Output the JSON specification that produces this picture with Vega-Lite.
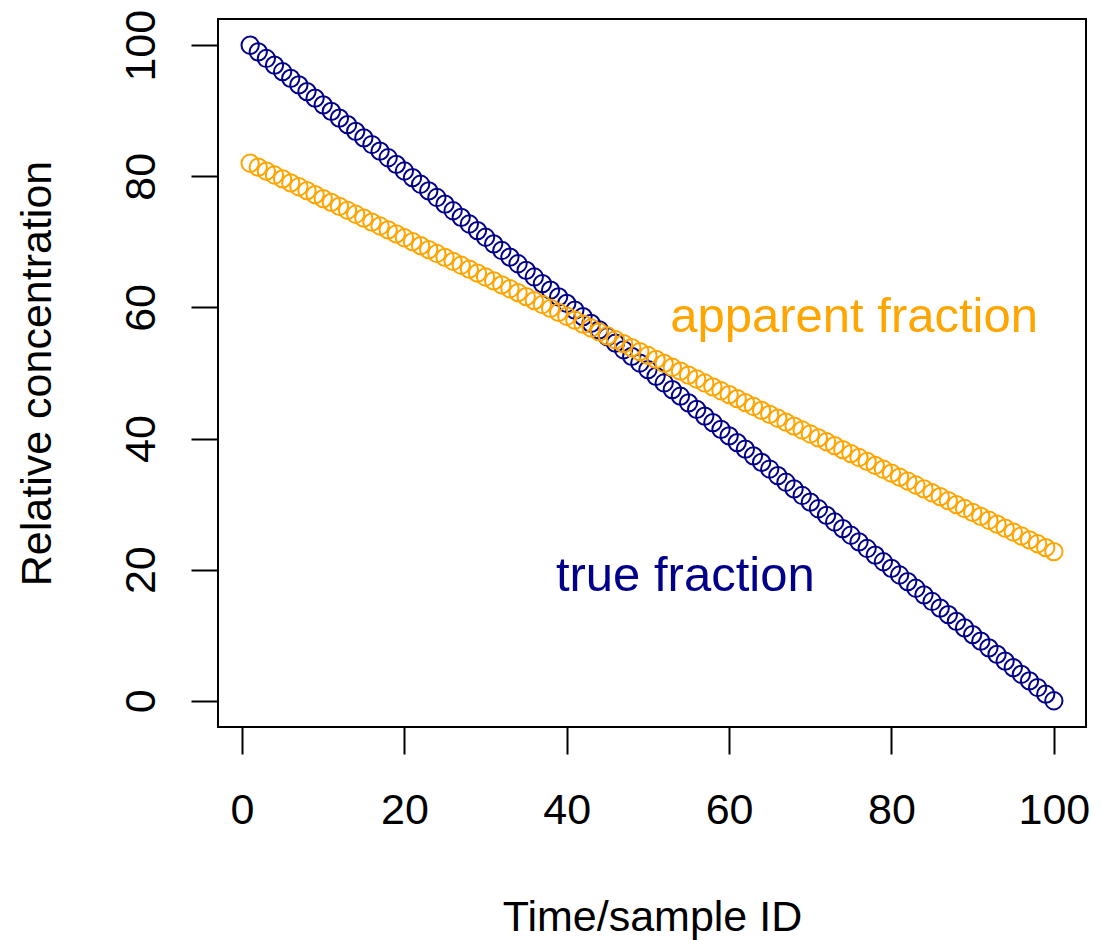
{
  "$schema": "https://vega.github.io/schema/vega-lite/v6.json",
  "autosize": {"type": "none"},
  "padding": {"left": 218, "top": 19, "right": 15, "bottom": 213},
  "width": 868,
  "height": 708,
  "background": "white",
  "config": {
    "view": {"stroke": "black", "strokeWidth": 2},
    "font": "Liberation Sans",
    "axis": {
      "domain": false,
      "grid": false,
      "ticks": true,
      "tickColor": "black",
      "tickWidth": 2,
      "tickSize": 27,
      "labelFont": "Liberation Sans",
      "labelFontSize": 43,
      "labelColor": "black",
      "titleFont": "Liberation Sans",
      "titleFontSize": 43,
      "titleFontWeight": "normal",
      "titleColor": "black"
    }
  },
  "datasets": {
    "pts": [
      {"id":1,"true_fraction":100,"apparent_fraction":82.00},
      {"id":2,"true_fraction":98.99,"apparent_fraction":81.40},
      {"id":3,"true_fraction":97.98,"apparent_fraction":80.80},
      {"id":4,"true_fraction":96.97,"apparent_fraction":80.20},
      {"id":5,"true_fraction":95.96,"apparent_fraction":79.61},
      {"id":6,"true_fraction":94.95,"apparent_fraction":79.01},
      {"id":7,"true_fraction":93.94,"apparent_fraction":78.41},
      {"id":8,"true_fraction":92.93,"apparent_fraction":77.81},
      {"id":9,"true_fraction":91.92,"apparent_fraction":77.21},
      {"id":10,"true_fraction":90.91,"apparent_fraction":76.61},
      {"id":11,"true_fraction":89.90,"apparent_fraction":76.02},
      {"id":12,"true_fraction":88.89,"apparent_fraction":75.42},
      {"id":13,"true_fraction":87.88,"apparent_fraction":74.82},
      {"id":14,"true_fraction":86.87,"apparent_fraction":74.22},
      {"id":15,"true_fraction":85.86,"apparent_fraction":73.62},
      {"id":16,"true_fraction":84.85,"apparent_fraction":73.02},
      {"id":17,"true_fraction":83.84,"apparent_fraction":72.42},
      {"id":18,"true_fraction":82.83,"apparent_fraction":71.83},
      {"id":19,"true_fraction":81.82,"apparent_fraction":71.23},
      {"id":20,"true_fraction":80.81,"apparent_fraction":70.63},
      {"id":21,"true_fraction":79.80,"apparent_fraction":70.03},
      {"id":22,"true_fraction":78.79,"apparent_fraction":69.43},
      {"id":23,"true_fraction":77.78,"apparent_fraction":68.83},
      {"id":24,"true_fraction":76.77,"apparent_fraction":68.23},
      {"id":25,"true_fraction":75.76,"apparent_fraction":67.64},
      {"id":26,"true_fraction":74.75,"apparent_fraction":67.04},
      {"id":27,"true_fraction":73.74,"apparent_fraction":66.44},
      {"id":28,"true_fraction":72.73,"apparent_fraction":65.84},
      {"id":29,"true_fraction":71.72,"apparent_fraction":65.24},
      {"id":30,"true_fraction":70.71,"apparent_fraction":64.64},
      {"id":31,"true_fraction":69.70,"apparent_fraction":64.05},
      {"id":32,"true_fraction":68.69,"apparent_fraction":63.45},
      {"id":33,"true_fraction":67.68,"apparent_fraction":62.85},
      {"id":34,"true_fraction":66.67,"apparent_fraction":62.25},
      {"id":35,"true_fraction":65.66,"apparent_fraction":61.65},
      {"id":36,"true_fraction":64.65,"apparent_fraction":61.05},
      {"id":37,"true_fraction":63.64,"apparent_fraction":60.45},
      {"id":38,"true_fraction":62.63,"apparent_fraction":59.86},
      {"id":39,"true_fraction":61.62,"apparent_fraction":59.26},
      {"id":40,"true_fraction":60.61,"apparent_fraction":58.66},
      {"id":41,"true_fraction":59.60,"apparent_fraction":58.06},
      {"id":42,"true_fraction":58.59,"apparent_fraction":57.46},
      {"id":43,"true_fraction":57.58,"apparent_fraction":56.86},
      {"id":44,"true_fraction":56.57,"apparent_fraction":56.26},
      {"id":45,"true_fraction":55.56,"apparent_fraction":55.67},
      {"id":46,"true_fraction":54.55,"apparent_fraction":55.07},
      {"id":47,"true_fraction":53.54,"apparent_fraction":54.47},
      {"id":48,"true_fraction":52.53,"apparent_fraction":53.87},
      {"id":49,"true_fraction":51.52,"apparent_fraction":53.27},
      {"id":50,"true_fraction":50.51,"apparent_fraction":52.67},
      {"id":51,"true_fraction":49.49,"apparent_fraction":52.08},
      {"id":52,"true_fraction":48.48,"apparent_fraction":51.48},
      {"id":53,"true_fraction":47.47,"apparent_fraction":50.88},
      {"id":54,"true_fraction":46.46,"apparent_fraction":50.28},
      {"id":55,"true_fraction":45.45,"apparent_fraction":49.68},
      {"id":56,"true_fraction":44.44,"apparent_fraction":49.08},
      {"id":57,"true_fraction":43.43,"apparent_fraction":48.48},
      {"id":58,"true_fraction":42.42,"apparent_fraction":47.89},
      {"id":59,"true_fraction":41.41,"apparent_fraction":47.29},
      {"id":60,"true_fraction":40.40,"apparent_fraction":46.69},
      {"id":61,"true_fraction":39.39,"apparent_fraction":46.09},
      {"id":62,"true_fraction":38.38,"apparent_fraction":45.49},
      {"id":63,"true_fraction":37.37,"apparent_fraction":44.89},
      {"id":64,"true_fraction":36.36,"apparent_fraction":44.29},
      {"id":65,"true_fraction":35.35,"apparent_fraction":43.70},
      {"id":66,"true_fraction":34.34,"apparent_fraction":43.10},
      {"id":67,"true_fraction":33.33,"apparent_fraction":42.50},
      {"id":68,"true_fraction":32.32,"apparent_fraction":41.90},
      {"id":69,"true_fraction":31.31,"apparent_fraction":41.30},
      {"id":70,"true_fraction":30.30,"apparent_fraction":40.70},
      {"id":71,"true_fraction":29.29,"apparent_fraction":40.11},
      {"id":72,"true_fraction":28.28,"apparent_fraction":39.51},
      {"id":73,"true_fraction":27.27,"apparent_fraction":38.91},
      {"id":74,"true_fraction":26.26,"apparent_fraction":38.31},
      {"id":75,"true_fraction":25.25,"apparent_fraction":37.71},
      {"id":76,"true_fraction":24.24,"apparent_fraction":37.11},
      {"id":77,"true_fraction":23.23,"apparent_fraction":36.51},
      {"id":78,"true_fraction":22.22,"apparent_fraction":35.92},
      {"id":79,"true_fraction":21.21,"apparent_fraction":35.32},
      {"id":80,"true_fraction":20.20,"apparent_fraction":34.72},
      {"id":81,"true_fraction":19.19,"apparent_fraction":34.12},
      {"id":82,"true_fraction":18.18,"apparent_fraction":33.52},
      {"id":83,"true_fraction":17.17,"apparent_fraction":32.92},
      {"id":84,"true_fraction":16.16,"apparent_fraction":32.32},
      {"id":85,"true_fraction":15.15,"apparent_fraction":31.73},
      {"id":86,"true_fraction":14.14,"apparent_fraction":31.13},
      {"id":87,"true_fraction":13.13,"apparent_fraction":30.53},
      {"id":88,"true_fraction":12.12,"apparent_fraction":29.93},
      {"id":89,"true_fraction":11.11,"apparent_fraction":29.33},
      {"id":90,"true_fraction":10.10,"apparent_fraction":28.73},
      {"id":91,"true_fraction":9.09,"apparent_fraction":28.14},
      {"id":92,"true_fraction":8.08,"apparent_fraction":27.54},
      {"id":93,"true_fraction":7.07,"apparent_fraction":26.94},
      {"id":94,"true_fraction":6.06,"apparent_fraction":26.34},
      {"id":95,"true_fraction":5.05,"apparent_fraction":25.74},
      {"id":96,"true_fraction":4.04,"apparent_fraction":25.14},
      {"id":97,"true_fraction":3.03,"apparent_fraction":24.54},
      {"id":98,"true_fraction":2.02,"apparent_fraction":23.95},
      {"id":99,"true_fraction":1.01,"apparent_fraction":23.35},
      {"id":100,"true_fraction":0,"apparent_fraction":22.75}
    ],
    "labels": [
      {"label":"apparent fraction","lx":75.4,"ly":56.3,"series":"apparent"},
      {"label":"true fraction","lx":54.6,"ly":16.7,"series":"true"}
    ]
  },
  "layer": [
    {
      "data": {"name": "pts"},
      "mark": {"type": "point", "shape": "circle", "filled": false, "size": 300, "strokeWidth": 2, "color": "#00008B", "opacity": 1},
      "encoding": {
        "x": {"field": "id", "type": "quantitative",
              "scale": {"domain": [-2.96, 103.96], "nice": false, "zero": false},
              "axis": {"values": [0, 20, 40, 60, 80, 100], "title": "Time/sample ID", "labelPadding": 35, "labelAlign": "center", "labelBaseline": "top", "titleBaseline": "alphabetic", "titleY": 203, "labelFlush": false}},
        "y": {"field": "true_fraction", "type": "quantitative",
              "scale": {"domain": [-4, 104], "nice": false, "zero": false},
              "axis": {"values": [0, 20, 40, 60, 80, 100], "title": "Relative concentration", "labelAngle": -90, "labelAlign": "center", "labelBaseline": "alphabetic", "labelPadding": 37, "titleAngle": -90, "titleAlign": "center", "titleBaseline": "alphabetic", "titleX": -168, "titleY": 354, "labelFlush": false}}
      }
    },
    {
      "data": {"name": "pts"},
      "mark": {"type": "point", "shape": "circle", "filled": false, "size": 300, "strokeWidth": 2, "color": "#FFA500", "opacity": 1},
      "encoding": {
        "x": {"field": "id", "type": "quantitative"},
        "y": {"field": "apparent_fraction", "type": "quantitative"}
      }
    },
    {
      "data": {"name": "labels"},
      "mark": {"type": "text", "fontSize": 49, "font": "Liberation Sans", "align": "center", "baseline": "alphabetic"},
      "encoding": {
        "x": {"field": "lx", "type": "quantitative"},
        "y": {"field": "ly", "type": "quantitative"},
        "text": {"field": "label"},
        "color": {"field": "series", "type": "nominal", "scale": {"domain": ["apparent", "true"], "range": ["#FFA500", "#00008B"]}, "legend": null}
      }
    }
  ]
}
